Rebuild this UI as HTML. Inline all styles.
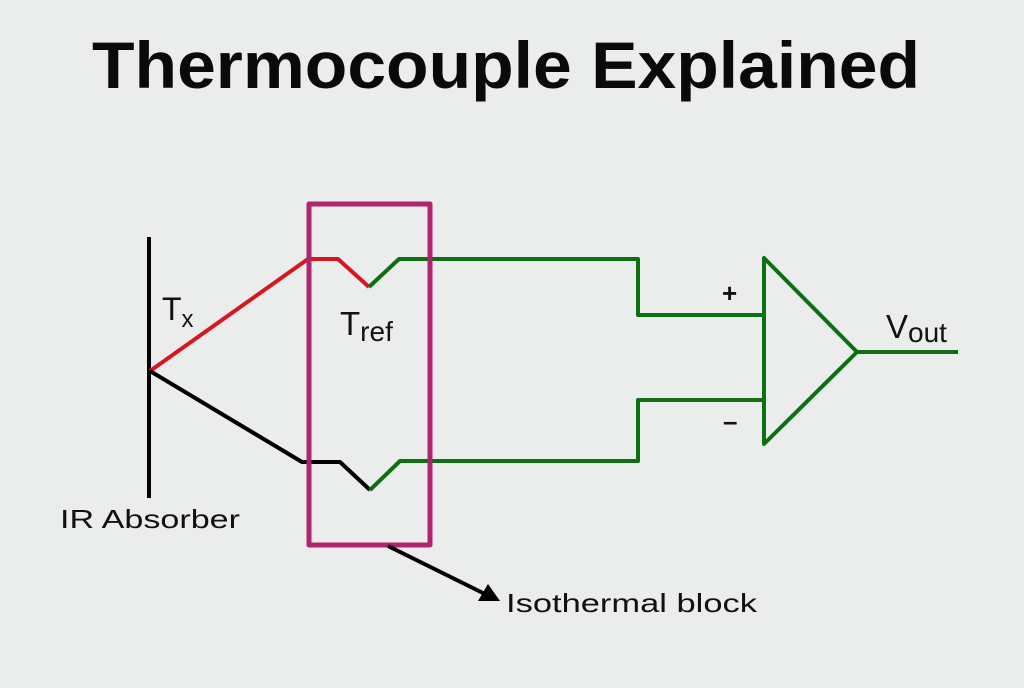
<!DOCTYPE html>
<html><head><style>
body{margin:0;width:1024px;height:683px;background:#ebecec;overflow:hidden}
</style></head><body>
<svg width="1024" height="683" viewBox="0 0 1024 683" xmlns="http://www.w3.org/2000/svg">
<rect width="1024" height="683" fill="#ebecec"/>
<text x="92" y="88" textLength="828" lengthAdjust="spacingAndGlyphs" font-family="Liberation Sans, sans-serif" font-weight="bold" font-size="66" fill="#0a0a0a">Thermocouple Explained</text>
<g fill="none" stroke-width="4" stroke-linejoin="round">
<line x1="149" y1="237" x2="149" y2="498" stroke="#000"/>
<polyline points="150,371 308,259 338,259 369,287" stroke="#d51820"/>
<polyline points="369,287 399,259 638,259 638,315 764,315" stroke="#0d6f12"/>
<polyline points="150,371 302,462 340,462 370,490" stroke="#000"/>
<polyline points="370,490 400,461 638,461 638,400 764,400" stroke="#0d6f12"/>
<polygon points="764,258 764,444 857,352" stroke="#0d6f12"/>
<line x1="857" y1="352" x2="958" y2="352" stroke="#0d6f12"/>
<rect x="309" y="204" width="121" height="341" stroke="#b0246f" stroke-width="5"/>
<line x1="388" y1="546" x2="485" y2="594" stroke="#000"/>
</g>
<polygon points="500,601 478,601 488,584" fill="#000"/>
<g font-family="Liberation Sans, sans-serif" fill="#111">
<text x="162" y="320" font-size="32">T<tspan font-size="24" dy="7">x</tspan></text>
<text x="340" y="335" font-size="33">T<tspan font-size="28" dy="6">ref</tspan></text>
<text x="886" y="338" font-size="33">V<tspan font-size="28" dy="4">out</tspan></text>
<text x="60" y="528" font-size="26" textLength="180" lengthAdjust="spacingAndGlyphs">IR Absorber</text>
<text x="506" y="612" font-size="26" textLength="251" lengthAdjust="spacingAndGlyphs">Isothermal block</text>
<text x="722" y="302" font-size="26" font-weight="bold">+</text>
<text x="723" y="430" font-size="26" font-weight="bold">–</text>
</g>
</svg>
</body></html>
